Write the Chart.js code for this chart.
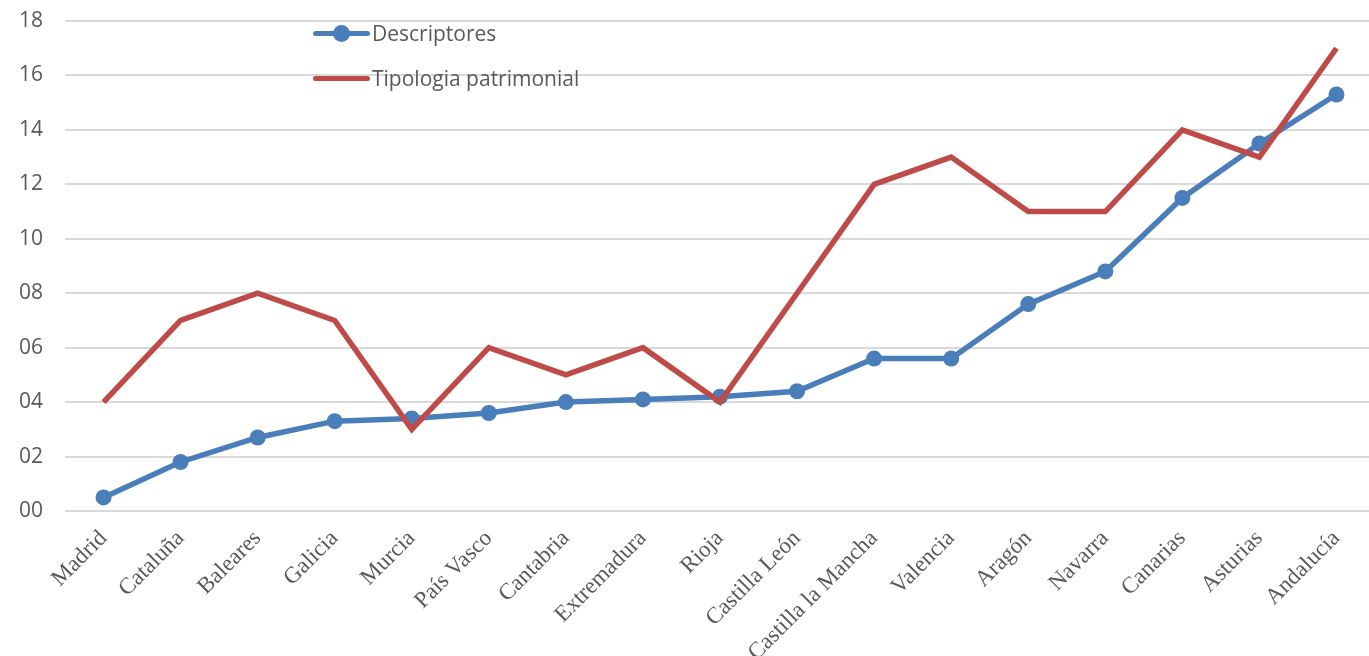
<!DOCTYPE html>
<html lang="es">
<head>
  <meta charset="UTF-8" />
  <title>Descriptores y tipologia patrimonial</title>
  <script src="https://cdn.jsdelivr.net/npm/chart.js"></script>
  <style>
    html, body { margin: 0; padding: 0; background: #fff; overflow: hidden; }
    #wrap { position: relative; width: 1383px; height: 656px; }
    .leg { position: absolute; left: 313px; font: 21px "Open Sans", sans-serif; color: #595959; display: flex; align-items: center; }
    .leg .ln { width: 57px; height: 5px; border-radius: 3px; position: relative; margin-right: 2px; }
    .leg .dot { position: absolute; left: 20px; top: -6px; width: 17px; height: 17px; border-radius: 50%; background: #4a7ebb; }
  </style>
</head>
<body>
  <div id="wrap">
    <canvas id="chart" width="1383" height="656"></canvas>
    <!-- legend placed inside plot like the original -->
    <div class="leg" style="top:19px"><span class="ln" style="background:#4a7ebb"><span class="dot"></span></span>Descriptores</div>
    <div class="leg" style="top:64px"><span class="ln" style="background:#be4b48"></span>Tipologia patrimonial</div>
  </div>

  <script>
    const regiones = ["Madrid", "Cataluña", "Baleares", "Galicia", "Murcia", "País Vasco", "Cantabria",
      "Extremadura", "Rioja", "Castilla León", "Castilla la Mancha", "Valencia", "Aragón", "Navarra",
      "Canarias", "Asturias", "Andalucía"];
    const descriptores = [0.5, 1.8, 2.7, 3.3, 3.4, 3.6, 4.0, 4.1, 4.2, 4.4, 5.6, 5.6, 7.6, 8.8, 11.5, 13.5, 15.3];
    const tipologia = [4, 7, 8, 7, 3, 6, 5, 6, 4, 8, 12, 13, 11, 11, 14, 13, 17];
    const yTicks = [0, 2, 4, 6, 8, 10, 12, 14, 16, 18];

    const ctx = document.getElementById("chart").getContext("2d");
    new Chart(ctx, {
      type: "line",
      data: {
        labels: regiones,
        datasets: [
          {
            label: "Descriptores",
            data: descriptores,
            borderColor: "#4a7ebb",
            backgroundColor: "#4a7ebb",
            borderWidth: 5.5,
            pointRadius: 8,
            pointHoverRadius: 8,
            pointBorderWidth: 0,
            tension: 0,
            order: 2
          },
          {
            label: "Tipologia patrimonial",
            data: tipologia,
            borderColor: "#be4b48",
            backgroundColor: "#be4b48",
            borderWidth: 5.5,
            pointRadius: 0,
            tension: 0,
            order: 1
          }
        ]
      },
      options: {
        responsive: false,
        animation: false,
        layout: { padding: { top: 21, right: 0, left: 0, bottom: 0 } },
        plugins: {
          legend: { display: false },
          tooltip: { enabled: false }
        },
        scales: {
          x: {
            offset: true,
            grid: { display: false },
            border: { display: false },
            ticks: {
              minRotation: 45,
              maxRotation: 45,
              padding: 6,
              color: "#595959",
              font: { family: "Liberation Serif", size: 23 }
            },
            afterFit: s => { s.height = 145; }
          },
          y: {
            min: 0,
            max: 18,
            afterBuildTicks: s => { s.ticks = yTicks.map(v => ({ value: v })); },
            grid: { color: "#d9d9d9", lineWidth: 2, drawTicks: false },
            border: { display: false },
            ticks: {
              padding: 22,
              color: "#595959",
              font: { family: "Open Sans", size: 21 },
              callback: v => String(v).padStart(2, "0")
            },
            afterFit: s => { s.width = 65; s.paddingTop = 0; }
          }
        }
      }
    });
  </script>
</body>
</html>
